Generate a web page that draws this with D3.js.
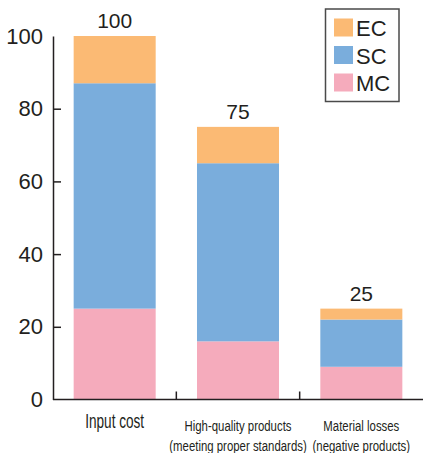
<!DOCTYPE html>
<html>
<head>
<meta charset="utf-8">
<script src="https://cdn.jsdelivr.net/npm/d3@7"></script>
<style>
  body { margin: 0; background: #fff; }
  svg { display: block; }
  text { font-family: "Liberation Sans", Arial, Helvetica, sans-serif; fill: #231f20; }
</style>
</head>
<body>
<div id="chart"></div>
<script>
// data
var categories = ["Input cost", "High-quality products", "Material losses"];
var labelLines = [
  ["Input cost"],
  ["High-quality products", "(meeting proper standards)"],
  ["Material losses", "(negative products)"]
];
var series = ["MC", "SC", "EC"];
var mcValues = [25, 16, 9];
var scValues = [62, 49, 13];
var ecValues = [13, 10, 3];
var totals = [100, 75, 25];
var yTicks = [0, 20, 40, 60, 80, 100];
var legendOrder = ["EC", "SC", "MC"];

var colors = { MC: "#f5abbc", SC: "#7aaddc", EC: "#fbba74" };

var width = 423, height = 453;
var ink = "#231f20";

var svg = d3.select("#chart").append("svg")
  .attr("width", width)
  .attr("height", height);

// echelles
var y = d3.scaleLinear().domain([0, 100]).range([399.5, 36]);
var x = d3.scaleBand().domain(categories).range([53, 423])
  .paddingInner(0.335).paddingOuter(0.1675);

// table pour le stack
var rows = categories.map(function(c, i) {
  return { cat: c, MC: mcValues[i], SC: scValues[i], EC: ecValues[i] };
});
var stacked = d3.stack().keys(series)(rows);

svg.append("g").selectAll("g").data(stacked).enter()
  .append("g")
  .attr("fill", function(d) { return colors[d.key]; })
  .selectAll("rect").data(function(d) { return d; }).enter()
  .append("rect")
  .attr("x", function(d) { return x(d.data.cat); })
  .attr("width", x.bandwidth())
  .attr("y", function(d) { return y(d[1]); })
  .attr("height", function(d) { return y(d[0]) - y(d[1]); });

// axe Y
var yAxis = svg.append("g")
  .attr("transform", "translate(53,0)")
  .call(d3.axisLeft(y).tickValues(yTicks).tickSizeInner(-8).tickSizeOuter(0).tickPadding(10));
yAxis.select(".domain").attr("stroke", ink).attr("stroke-width", 1.5);
yAxis.selectAll(".tick line").attr("stroke", ink).attr("stroke-width", 1.5)
  .filter(function(d) { return d === 0 || d === 100; }).remove();
yAxis.selectAll(".tick text")
  .attr("fill", ink)
  .style("font-size", "22px")
  .style("font-family", "'Liberation Sans', Arial, sans-serif");

// axe X
svg.append("line")
  .attr("x1", 53).attr("x2", 423)
  .attr("y1", y(0)).attr("y2", y(0))
  .attr("stroke", ink).attr("stroke-width", 1.5);

var gap = x.step() * x.paddingInner() / 2;
svg.selectAll(".xtick").data(categories.slice(1)).enter()
  .append("line")
  .attr("class", "xtick")
  .attr("x1", function(d) { return x(d) - gap; })
  .attr("x2", function(d) { return x(d) - gap; })
  .attr("y1", y(0)).attr("y2", y(0) - 8)
  .attr("stroke", ink).attr("stroke-width", 1.5);

// libelles des categories (police condensee)
categories.forEach(function(c, i) {
  var cx = x(c) + x.bandwidth() / 2;
  labelLines[i].forEach(function(line, j) {
    var big = (i === 0);
    svg.append("text")
      .attr("transform", "translate(" + cx + "," + (big ? 428 : 430.5 + j * 20.5) + ") scale(" + (big ? 0.68 : 0.76) + ",1)")
      .attr("text-anchor", "middle")
      .style("font-size", big ? "20px" : "15px")
      .text(line);
  });
});

// totaux au-dessus des barres
svg.selectAll(".total").data(categories).enter()
  .append("text")
  .attr("class", "total")
  .attr("x", function(d) { return x(d) + x.bandwidth() / 2; })
  .attr("y", function(d, i) { return y(totals[i]) - 8; })
  .attr("text-anchor", "middle")
  .style("font-size", "21px")
  .text(function(d, i) { return totals[i]; });

// legende
var legend = svg.append("g");
legend.append("rect")
  .attr("x", 325.5).attr("y", 9)
  .attr("width", 73.5).attr("height", 92.5)
  .attr("fill", "#fff").attr("stroke", "#4a4a4a").attr("stroke-width", 1.5);

var li = legend.selectAll(".li").data(legendOrder).enter()
  .append("g")
  .attr("transform", function(d, i) { return "translate(334," + (18.5 + i * 27.5) + ")"; });
li.append("rect")
  .attr("width", 19).attr("height", 18)
  .attr("fill", function(d) { return colors[d]; });
li.append("text")
  .attr("x", 22).attr("y", 17.5)
  .style("font-size", "22px")
  .text(function(d) { return d; });
</script>
</body>
</html>
